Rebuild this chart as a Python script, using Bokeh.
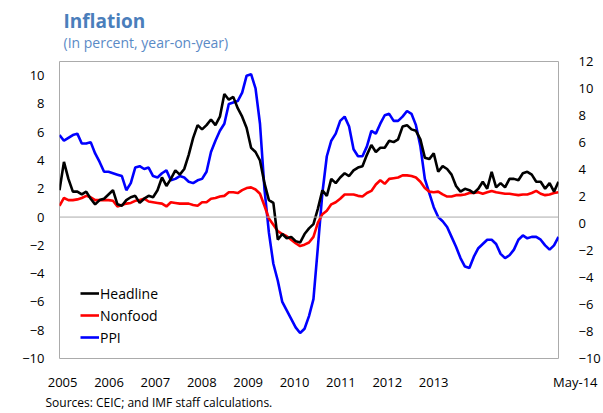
from bokeh.plotting import figure
from bokeh.models import (Range1d, LinearAxis, FixedTicker, Span, Legend,
                          LegendItem, ColumnDataSource, Title)
from bokeh.embed import file_html
from bokeh.resources import INLINE

# ---------------- data (monthly, Jan 2005 - May 2014) ----------------
headline = [
    1.9, 3.9, 2.7, 1.8, 1.8, 1.6, 1.8, 1.3, 0.9, 1.2, 1.3, 1.6,
    1.9, 0.9, 0.8, 1.2, 1.4, 1.5, 1.0, 1.3, 1.5, 1.4, 1.9, 2.8,
    2.2, 2.7, 3.3, 3.0, 3.4, 4.4, 5.6, 6.5, 6.2, 6.5, 6.9, 6.5,
    7.1, 8.7, 8.3, 8.5, 7.7, 7.1, 6.3, 4.9, 4.6, 4.0, 2.4, 1.2,
    1.0, -1.6, -1.2, -1.5, -1.4, -1.7, -1.8, -1.2, -0.8, -0.5, 0.6, 1.9,
    1.5, 2.7, 2.4, 2.8, 3.1, 2.9, 3.3, 3.5, 3.6, 4.4, 5.1, 4.6,
    4.9, 4.9, 5.4, 5.3, 5.5, 6.4, 6.5, 6.2, 6.1, 5.5, 4.2, 4.1,
    4.5, 3.2, 3.6, 3.4, 3.0, 2.2, 1.8, 2.0, 1.9, 1.7, 2.0, 2.5,
    2.0, 3.2, 2.1, 2.4, 2.1, 2.7, 2.7, 2.6, 3.1, 3.2, 3.0, 2.5,
    2.5, 2.0, 2.4, 1.8, 2.5,
]
nonfood = [
    0.8, 1.35, 1.2, 1.2, 1.25, 1.35, 1.5, 1.4, 1.2, 1.2, 1.2, 1.2,
    1.15, 0.75, 0.85, 0.95, 1.0, 1.15, 1.2, 1.3, 1.1, 1.05, 1.0, 0.95,
    0.75, 1.05, 1.0, 0.95, 0.95, 0.95, 0.85, 0.8, 1.05, 1.05, 1.3, 1.35,
    1.45, 1.5, 1.75, 1.75, 1.7, 1.9, 2.05, 2.1, 1.95, 1.65, 0.8, -0.1,
    -0.55, -1.0, -1.2, -1.35, -1.6, -1.85, -2.05, -1.95, -1.8, -1.4, -0.4, 0.2,
    0.45, 0.9, 1.05, 1.3, 1.6, 1.6, 1.6, 1.5, 1.45, 1.7, 1.85, 2.3,
    2.6, 2.35, 2.7, 2.75, 2.8, 2.95, 2.95, 2.9, 2.8, 2.5, 2.05, 1.8,
    1.75, 1.8, 1.6, 1.45, 1.45, 1.55, 1.55, 1.6, 1.7, 1.7, 1.75, 1.65,
    1.75, 1.85, 1.75, 1.7, 1.65, 1.65, 1.6, 1.55, 1.6, 1.6, 1.7, 1.85,
    1.65, 1.55, 1.6, 1.7, 1.75,
]
ppi = [
    5.8, 5.4, 5.6, 5.8, 5.9, 5.2, 5.2, 5.3, 4.5, 3.9, 3.2, 3.2,
    3.1, 3.0, 2.9, 1.9, 2.4, 3.5, 3.6, 3.4, 3.5, 2.9, 2.8, 3.1,
    3.3, 2.6, 2.7, 2.9, 2.8, 2.5, 2.4, 2.6, 2.7, 3.2, 4.6, 5.4,
    6.1, 6.6, 8.0, 8.1, 8.2, 8.8, 10.0, 10.1, 9.1, 6.6, 2.0, -1.1,
    -3.3, -4.5, -6.0, -6.6, -7.2, -7.8, -8.2, -7.9, -7.0, -5.8, -2.1, 1.7,
    4.3, 5.4, 5.9, 6.8, 7.1, 6.4, 4.8, 4.3, 4.3, 5.0, 6.1, 5.9,
    6.6, 7.2, 7.3, 6.8, 6.8, 7.1, 7.5, 7.3, 6.5, 5.0, 2.7, 1.7,
    0.7, 0.0, -0.3, -0.7, -1.4, -2.1, -2.9, -3.5, -3.6, -2.8, -2.2, -1.9,
    -1.6, -1.6, -1.9, -2.6, -2.9, -2.7, -2.3, -1.6, -1.3, -1.5, -1.4, -1.4,
    -1.6, -2.0, -2.3, -2.0, -1.4,
]
series_names = ["Headline", "Nonfood", "PPI"]
year_labels = ["2005", "2006", "2007", "2008", "2009", "2010", "2011", "2012", "2013"]
last_label = "May-14"
left_ticks = [-10, -8, -6, -4, -2, 0, 2, 4, 6, 8, 10]
right_ticks = [-10, -8, -6, -4, -2, 0, 2, 4, 6, 8, 10, 12]
title_text = "Inflation"
subtitle_text = "(In percent,  year-on-year)"
source_text = "Sources: CEIC; and IMF staff calculations."

# ---------------- layout ----------------
FONT = "Open Sans"
W, H = 603, 413
n = len(headline)
x = list(range(n))
src = ColumnDataSource(dict(x=x, headline=headline, nonfood=nonfood, ppi=ppi))

p = figure(width=W, height=H, output_backend="svg", toolbar_location=None,
           x_range=Range1d(0, n - 1), y_range=Range1d(-10, 11),
           min_border_left=59, min_border_right=45, min_border_top=61,
           min_border_bottom=55)
p.extra_y_ranges = {"right": Range1d(-10, 12)}
p.background_fill_color = "white"
p.border_fill_color = "white"
p.outline_line_color = "#ABABAB"
p.outline_line_width = 1
p.xgrid.visible = False
p.ygrid.visible = False

# zero line
p.add_layout(Span(location=0, dimension="width", line_color="#ABABAB", line_width=1))

r_ppi = p.line("x", "ppi", source=src, line_color="#0000FF", line_width=2.6)
r_non = p.line("x", "nonfood", source=src, line_color="#FF0000", line_width=2.6)
r_head = p.line("x", "headline", source=src, line_color="#000000", line_width=2.6)

# x axis (year labels spaced like the reference)
first_pos, step = 0.7, 10.41
xpos = [first_pos + i * step for i in range(len(year_labels))]
xa = p.xaxis[0]
xa.ticker = FixedTicker(ticks=xpos)
xa.major_label_overrides = {v: t for v, t in zip(xpos, year_labels)}
xa.axis_line_color = None
xa.major_tick_line_color = None
xa.minor_tick_line_color = None
xa.major_label_standoff = 13
xa.major_label_text_font = FONT
xa.major_label_text_font_size = "13px"
xa.major_label_text_color = "#000000"

ya = p.yaxis[0]
ya.ticker = FixedTicker(ticks=left_ticks)
ya.axis_line_color = None
ya.major_tick_line_color = None
ya.minor_tick_line_color = None
ya.major_label_standoff = 9
ya.major_label_text_font = FONT
ya.major_label_text_font_size = "13px"
ya.major_label_text_color = "#000000"

ra = LinearAxis(y_range_name="right", ticker=FixedTicker(ticks=right_ticks))
ra.axis_line_color = None
ra.major_tick_line_color = None
ra.minor_tick_line_color = None
ra.major_label_standoff = 14
ra.major_label_text_font = FONT
ra.major_label_text_font_size = "13px"
ra.major_label_text_color = "#000000"
p.add_layout(ra, "right")

# titles above the frame (closest first)
p.add_layout(Title(text=subtitle_text, align="left", offset=4, vertical_align="top",
                   standoff=16, text_font=FONT, text_font_size="14px",
                   text_font_style="normal", text_color="#5A8AC6"), "above")
p.add_layout(Title(text=title_text, align="left", offset=4, vertical_align="bottom",
                   standoff=-18, text_font=FONT, text_font_size="19px",
                   text_font_style="bold", text_color="#4A7EBB"), "above")

# source note and last x label below the frame
p.add_layout(Title(text=source_text, align="left", offset=-14, vertical_align="bottom",
                   standoff=5, text_font=FONT, text_font_size="12px",
                   text_font_style="normal", text_color="#000000"), "below")
p.add_layout(Title(text=last_label, align="right", offset=-39, vertical_align="top",
                   standoff=-81, text_font=FONT, text_font_size="13px",
                   text_font_style="normal", text_color="#000000"), "below")

legend = Legend(items=[LegendItem(label=series_names[0], renderers=[r_head]),
                       LegendItem(label=series_names[1], renderers=[r_non]),
                       LegendItem(label=series_names[2], renderers=[r_ppi])],
                location=(21, 10))
legend.background_fill_alpha = 0
legend.border_line_color = None
legend.padding = 0
legend.margin = 0
legend.spacing = 0
legend.label_standoff = 1
legend.glyph_width = 19
legend.glyph_height = 22
legend.label_height = 22
legend.label_text_font = FONT
legend.label_text_font_size = "14px"
legend.label_text_color = "#000000"
p.add_layout(legend)

open("out.html", "w").write(file_html(p, INLINE))
